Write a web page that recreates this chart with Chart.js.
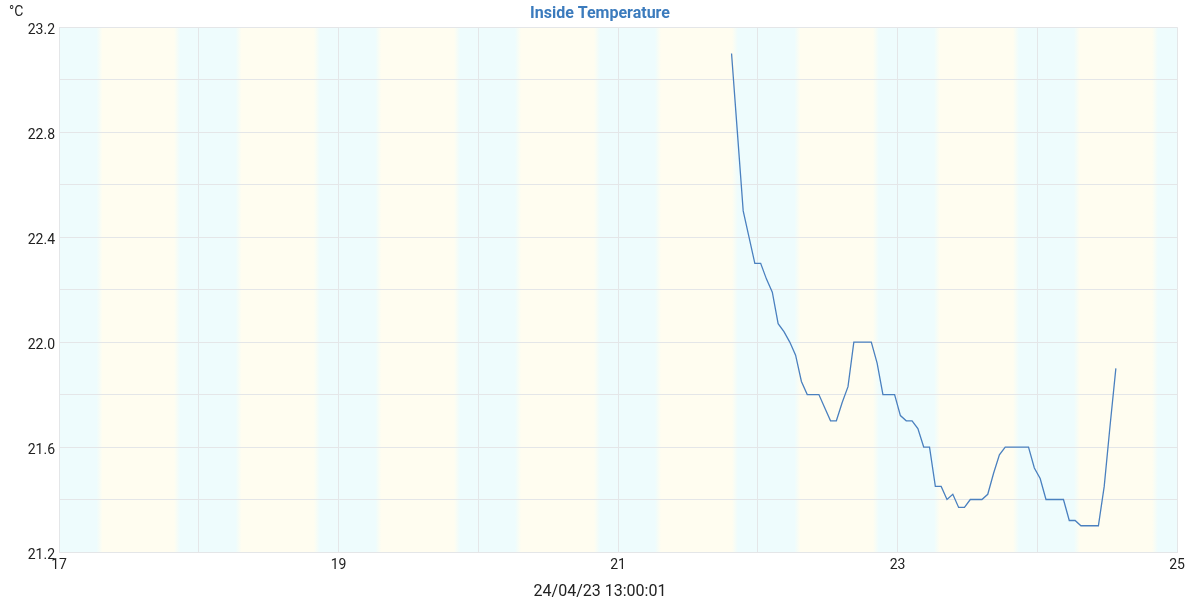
<!DOCTYPE html>
<html>
<head>
<meta charset="utf-8">
<script src="https://cdn.jsdelivr.net/npm/chart.js@4"></script>
<style>
  body { margin: 0; background: #fff; }
  #wrap { width: 1200px; height: 600px; }
</style>
</head>
<body>
<div id="wrap"><canvas id="myChart" width="1200" height="600"></canvas></div>
<script>
// hourly readings, first one on the 21st at 19:30
const startDay = 21 + 19.5 / 24;
const temps = [
  23.1, 22.8, 22.5, 22.4, 22.3, 22.3, 22.24, 22.19, 22.07, 22.04,
  22.0, 21.95, 21.85, 21.8, 21.8, 21.8, 21.75, 21.7, 21.7, 21.77,
  21.83, 22.0, 22.0, 22.0, 22.0, 21.92, 21.8, 21.8, 21.8, 21.72,
  21.7, 21.7, 21.67, 21.6, 21.6, 21.45, 21.45, 21.4, 21.42, 21.37,
  21.37, 21.4, 21.4, 21.4, 21.42, 21.5, 21.57, 21.6, 21.6, 21.6,
  21.6, 21.6, 21.52, 21.48, 21.4, 21.4, 21.4, 21.4, 21.32, 21.32,
  21.3, 21.3, 21.3, 21.3, 21.45, 21.68, 21.9,
];

// daylight bands (day of month, fractional)
const sunrise = [17.29, 18.285, 19.285, 20.285, 21.286, 22.284, 23.283, 24.284];
const sunset = [17.845, 18.845, 19.848, 20.85, 21.837, 22.846, 23.848, 24.843];

const xTicks = [17, 19, 21, 23, 25];
const yLabelStep = 0.4;
const stamp = "24/04/23 13:00:01";

const points = temps.map((t, i) => ({ x: startDay + i / 24, y: t }));

const nightColor = "#eefcfd";
const dayColor = "#fffdf0";

const bands = {
  id: "bands",
  beforeDraw(chart) {
    const { ctx, chartArea: a, scales } = chart;
    const x = scales.x;
    ctx.save();
    ctx.fillStyle = nightColor;
    ctx.fillRect(a.left, a.top, a.right - a.left, a.bottom - a.top);
    for (let i = 0; i < sunrise.length; i++) {
      const x0 = x.getPixelForValue(sunrise[i]);
      const x1 = x.getPixelForValue(sunset[i]);
      const g = ctx.createLinearGradient(x0 - 3, 0, x1 + 3, 0);
      const w = x1 - x0 + 6;
      g.addColorStop(0, nightColor);
      g.addColorStop(6 / w, dayColor);
      g.addColorStop(1 - 6 / w, dayColor);
      g.addColorStop(1, nightColor);
      ctx.fillStyle = g;
      ctx.fillRect(x0 - 3, a.top, w, a.bottom - a.top);
    }
    ctx.restore();
  },
  afterDraw(chart) {
    const ctx = chart.ctx;
    ctx.save();
    ctx.fillStyle = "#222";
    ctx.font = "14px Roboto";
    ctx.textAlign = "left";
    ctx.textBaseline = "alphabetic";
    ctx.fillText("°C", 9, 16);
    // timestamp under the x axis
    ctx.font = "16px Roboto";
    ctx.textAlign = "center";
    ctx.textBaseline = "middle";
    ctx.fillText(stamp, chart.width / 2, 592);
    ctx.restore();
  },
};

const ctx = document.getElementById("myChart").getContext("2d");
const myChart = new Chart(ctx, {
  type: "line",
  data: {
    datasets: [
      {
        label: "Inside Temperature",
        data: points,
        borderColor: "#4a80bf",
        borderWidth: 1.3,
        pointRadius: 0,
        tension: 0,
        fill: false,
      },
    ],
  },
  options: {
    responsive: false,
    animation: false,
    layout: { padding: 0 },
    scales: {
      x: {
        type: "linear",
        min: 17,
        max: 25,
        grid: { color: "#e4e6e8", drawTicks: false },
        border: { color: "#e4e6e8" },
        afterFit: (scale) => {
          scale.height = 48;
        },
        ticks: {
          stepSize: 1,
          autoSkip: false,
          maxRotation: 0,
          padding: 5,
          color: "#222",
          font: { family: "Roboto", size: 14 },
          callback: (v) => (xTicks.includes(v) ? String(v) : ""),
        },
      },
      y: {
        min: 21.2,
        max: 23.2,
        grid: { color: "#e4e6e8", drawTicks: false },
        border: { color: "#e4e6e8" },
        afterFit: (scale) => {
          scale.width = 59;
        },
        ticks: {
          stepSize: 0.2,
          autoSkip: false,
          padding: 4,
          labelOffset: 3,
          color: "#222",
          font: { family: "Roboto", size: 14 },
          callback: (v) => {
            const k = Math.round(v * 10);
            return k % Math.round(yLabelStep * 10) === 0 ? v.toFixed(1) : "";
          },
        },
      },
      // empty right margin so the title stays centred on the page
      yRight: {
        position: "right",
        min: 21.2,
        max: 23.2,
        grid: { display: false },
        border: { display: false },
        ticks: { display: false },
        afterFit: (scale) => {
          scale.width = 23;
        },
      },
    },
    plugins: {
      legend: { display: false },
      tooltip: { enabled: false },
      title: {
        display: true,
        text: "Inside Temperature",
        color: "#3b7bbd",
        font: { family: "Roboto", size: 16, weight: "bold" },
        padding: { top: 4, bottom: 4 },
      },
    },
  },
  plugins: [bands],
});
</script>
</body>
</html>
